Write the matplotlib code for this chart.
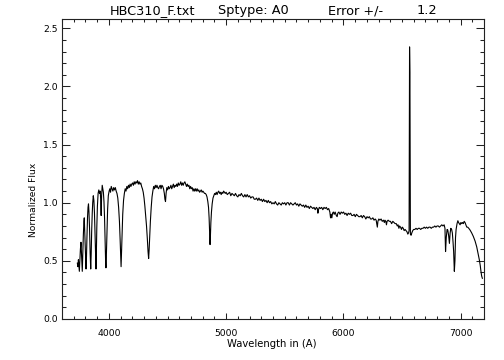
import matplotlib
matplotlib.use("Agg")
import matplotlib.pyplot as plt
from matplotlib.ticker import MultipleLocator

plt.rcParams['font.family'] = ['DejaVu Sans']

wavelength = [
    3731, 3736, 3740, 3744, 3748, 3752, 3757, 3762, 3766, 3770, 3773, 3777, 3782, 3787, 3790, 3794,
    3799, 3803, 3805, 3809, 3813, 3818, 3822, 3826, 3830, 3835, 3840, 3845, 3849, 3853, 3858, 3862,
    3867, 3872, 3877, 3883, 3887, 3890, 3893, 3897, 3902, 3908, 3914, 3920, 3926, 3930, 3934, 3938,
    3943, 3948, 3953, 3958, 3963, 3968, 3972, 3975, 3978, 3983, 3989, 3995, 4002, 4008, 4014, 4020,
    4027, 4034, 4041, 4048, 4055, 4062, 4069, 4076, 4083, 4090, 4096, 4101, 4104, 4107, 4112, 4118,
    4125, 4132, 4139, 4146, 4153, 4160, 4167, 4174, 4181, 4188, 4195, 4202, 4209, 4216, 4223, 4230,
    4237, 4244, 4251, 4258, 4265, 4272, 4279, 4286, 4293, 4300, 4307, 4314, 4321, 4328, 4334, 4339,
    4343, 4348, 4354, 4361, 4368, 4375, 4382, 4389, 4396, 4403, 4410, 4417, 4424, 4431, 4438, 4445,
    4452, 4459, 4466, 4473, 4478, 4483, 4488, 4494, 4501, 4508, 4515, 4522, 4529, 4536, 4543, 4550,
    4557, 4564, 4571, 4578, 4585, 4592, 4599, 4606, 4613, 4620, 4627, 4634, 4641, 4648, 4655, 4662,
    4669, 4676, 4683, 4690, 4697, 4704, 4711, 4718, 4725, 4732, 4739, 4746, 4753, 4760, 4767, 4774,
    4781, 4788, 4795, 4802, 4809, 4816, 4823, 4830, 4837, 4844, 4850, 4855, 4859, 4863, 4866, 4870,
    4875, 4881, 4888, 4895, 4902, 4909, 4916, 4923, 4930, 4937, 4944, 4951, 4958, 4965, 4972, 4979,
    4986, 4993, 5000, 5010, 5020, 5030, 5040, 5050, 5060, 5070, 5080, 5090, 5100, 5110, 5120, 5130,
    5140, 5150, 5160, 5170, 5180, 5190, 5200, 5210, 5220, 5230, 5240, 5250, 5260, 5270, 5280, 5290,
    5300, 5310, 5320, 5330, 5340, 5350, 5360, 5370, 5380, 5390, 5400, 5410, 5420, 5430, 5440, 5450,
    5460, 5470, 5480, 5490, 5500, 5510, 5520, 5530, 5540, 5550, 5560, 5570, 5580, 5590, 5600, 5610,
    5620, 5630, 5640, 5650, 5660, 5670, 5680, 5690, 5700, 5710, 5720, 5730, 5740, 5750, 5760, 5770,
    5778, 5783, 5788, 5795, 5805, 5815, 5825, 5835, 5845, 5855, 5865, 5875, 5885, 5891, 5896, 5902,
    5908, 5915, 5922, 5930, 5940, 5947, 5953, 5962, 5972, 5982, 5992, 6002, 6012, 6022, 6032, 6042,
    6052, 6062, 6072, 6082, 6092, 6102, 6112, 6122, 6132, 6142, 6152, 6162, 6172, 6182, 6192, 6202,
    6212, 6222, 6232, 6242, 6252, 6262, 6272, 6280, 6285, 6290, 6295, 6303, 6312, 6322, 6332, 6342,
    6350, 6355, 6362, 6368, 6373, 6382, 6392, 6402, 6412, 6422, 6432, 6442, 6452, 6460, 6467, 6474,
    6480, 6488, 6496, 6503, 6511, 6519, 6527, 6535, 6543, 6550, 6556, 6561, 6565, 6568, 6572, 6578,
    6584, 6592, 6600, 6610, 6620, 6630, 6640, 6650, 6660, 6670, 6680, 6690, 6700, 6710, 6720, 6730,
    6740, 6750, 6760, 6770, 6780, 6790, 6800, 6810, 6820, 6830, 6840, 6850, 6860, 6867, 6872, 6878,
    6885, 6891, 6898, 6905, 6911, 6917, 6924, 6930, 6936, 6941, 6947, 6952, 6957, 6962, 6970, 6977,
    6983, 6990, 6996, 7003, 7010, 7017, 7024, 7031, 7038, 7045, 7053, 7061, 7070, 7081, 7095, 7109,
    7124, 7138, 7150, 7160, 7168, 7174, 7180, 7186,
]

flux = [
    0.48, 0.45, 0.51, 0.46, 0.41, 0.49, 0.60, 0.66, 0.57, 0.46, 0.41, 0.56, 0.72, 0.84, 0.87, 0.76,
    0.60, 0.47, 0.43, 0.54, 0.71, 0.88, 0.96, 0.99, 0.92, 0.78, 0.57, 0.43, 0.56, 0.75, 0.91, 1.00,
    1.06, 1.02, 0.91, 0.69, 0.51, 0.43, 0.56, 0.79, 0.97, 1.08, 1.11, 1.08, 1.10, 1.03, 0.89, 1.06,
    1.15, 1.12, 1.09, 1.01, 0.87, 0.65, 0.50, 0.44, 0.53, 0.73, 0.94, 1.06, 1.10, 1.12, 1.09, 1.14,
    1.12, 1.10, 1.13, 1.11, 1.13, 1.10, 1.08, 1.04, 0.96, 0.84, 0.68, 0.52, 0.45, 0.55, 0.74, 0.90,
    1.02, 1.08, 1.12, 1.10, 1.14, 1.12, 1.15, 1.13, 1.16, 1.14, 1.16, 1.17, 1.15, 1.18, 1.16, 1.18,
    1.17, 1.19, 1.16, 1.18, 1.16, 1.17, 1.14, 1.12, 1.09, 1.04, 0.97, 0.89, 0.80, 0.69, 0.58, 0.52,
    0.59, 0.71, 0.84, 0.96, 1.05, 1.10, 1.14, 1.12, 1.15, 1.13, 1.15, 1.13, 1.12, 1.14, 1.15, 1.12,
    1.15, 1.14, 1.12, 1.08, 1.03, 1.01, 1.08, 1.13, 1.11, 1.14, 1.12, 1.13, 1.15, 1.12, 1.14, 1.16,
    1.13, 1.15, 1.14, 1.16, 1.14, 1.17, 1.15, 1.16, 1.18, 1.15, 1.17, 1.15, 1.17, 1.18, 1.16, 1.14,
    1.16, 1.14, 1.15, 1.12, 1.14, 1.12, 1.13, 1.10, 1.12, 1.10, 1.12, 1.10, 1.12, 1.10, 1.11, 1.09,
    1.10, 1.11, 1.09, 1.10, 1.09, 1.08, 1.08, 1.07, 1.05, 1.01, 0.96, 0.87, 0.76, 0.64, 0.71, 0.83,
    0.92, 0.99, 1.04, 1.06, 1.08, 1.07, 1.09, 1.07, 1.09, 1.10, 1.08, 1.09, 1.07, 1.09, 1.08, 1.10,
    1.09, 1.08, 1.09, 1.07, 1.08, 1.09, 1.06, 1.08, 1.07, 1.06, 1.08, 1.06, 1.05, 1.07, 1.06, 1.08,
    1.06, 1.05, 1.07, 1.05, 1.07, 1.05, 1.06, 1.04, 1.05, 1.05, 1.03, 1.03, 1.04, 1.02, 1.04, 1.02,
    1.03, 1.01, 1.03, 1.01, 1.02, 1.00, 1.02, 1.00, 1.01, 0.99, 1.00, 0.99, 1.01, 0.99, 0.98, 1.00,
    0.99, 0.98, 1.00, 0.99, 1.00, 0.98, 1.00, 1.00, 0.98, 1.00, 0.99, 0.98, 0.99, 1.00, 0.98, 0.99,
    0.97, 0.99, 0.98, 0.97, 0.98, 0.96, 0.98, 0.96, 0.97, 0.95, 0.97, 0.96, 0.95, 0.96, 0.94, 0.96,
    0.95, 0.91, 0.94, 0.96, 0.95, 0.96, 0.94, 0.96, 0.95, 0.96, 0.94, 0.95, 0.92, 0.87, 0.90, 0.87,
    0.91, 0.92, 0.90, 0.92, 0.89, 0.88, 0.91, 0.92, 0.90, 0.92, 0.91, 0.92, 0.90, 0.91, 0.89, 0.91,
    0.90, 0.91, 0.89, 0.89, 0.90, 0.88, 0.90, 0.89, 0.88, 0.88, 0.89, 0.87, 0.89, 0.88, 0.86, 0.88,
    0.87, 0.88, 0.86, 0.86, 0.87, 0.85, 0.86, 0.85, 0.82, 0.79, 0.84, 0.86, 0.85, 0.86, 0.84, 0.85,
    0.83, 0.85, 0.84, 0.81, 0.84, 0.85, 0.84, 0.84, 0.82, 0.84, 0.83, 0.82, 0.82, 0.80, 0.81, 0.78,
    0.80, 0.79, 0.77, 0.79, 0.78, 0.76, 0.77, 0.76, 0.75, 0.73, 0.74, 0.76, 2.34, 2.12, 0.73, 0.72,
    0.74, 0.76, 0.77, 0.77, 0.78, 0.77, 0.78, 0.78, 0.77, 0.78, 0.78, 0.79, 0.78, 0.79, 0.78, 0.79,
    0.79, 0.78, 0.79, 0.79, 0.80, 0.79, 0.80, 0.80, 0.79, 0.80, 0.81, 0.80, 0.81, 0.78, 0.58, 0.70,
    0.77, 0.765, 0.72, 0.65, 0.74, 0.78, 0.77, 0.74, 0.66, 0.58, 0.41, 0.50, 0.70, 0.77, 0.82, 0.845,
    0.83, 0.82, 0.81, 0.83, 0.82, 0.83, 0.82, 0.84, 0.83, 0.81, 0.79, 0.79, 0.78, 0.765, 0.74, 0.71,
    0.67, 0.62, 0.56, 0.51, 0.46, 0.41, 0.37, 0.35,
]

x_range = (3600, 7200)
y_range = (0.0, 2.58)

fig = plt.figure(figsize=(5.04, 3.6), dpi=100)
W, H = 504.0, 360.0
ax = fig.add_axes([62 / W, 1 - 319 / H, (484 - 62) / W, (319 - 19) / H])
ax.plot(wavelength, flux, color='black', lw=0.8)
ax.set_xlim(*x_range)
ax.set_ylim(*y_range)

ax.xaxis.set_major_locator(MultipleLocator(1000))
ax.xaxis.set_minor_locator(MultipleLocator(100))
ax.yaxis.set_major_locator(MultipleLocator(0.5))
ax.yaxis.set_minor_locator(MultipleLocator(0.1))
ax.yaxis.set_major_formatter(matplotlib.ticker.FormatStrFormatter('%.1f'))

ax.tick_params(axis='x', which='both', direction='in', top=True, bottom=True,
               width=0.75, labelsize=6.7, pad=7, color='#222222')
ax.tick_params(axis='x', which='major', length=4.3)
ax.tick_params(axis='x', which='minor', length=2.2)
ax.tick_params(axis='y', which='both', direction='in', left=True, right=True,
               width=0.75, labelsize=6.7, pad=3, color='#222222')
ax.tick_params(axis='y', which='major', length=6.0)
ax.tick_params(axis='y', which='minor', length=3.0)
for s in ax.spines.values():
    s.set_linewidth(0.8)
    s.set_color('#222222')

# title pieces
ty = 1 - 14 / H
fig.text(110 / W, ty, "HBC310_F.txt", fontsize=9.3, va='baseline', ha='left')
fig.text(218 / W, ty, "Sptype: A0", fontsize=9.3, va='baseline', ha='left')
fig.text(328 / W, ty, "Error +/-", fontsize=9.3, va='baseline', ha='left')
fig.text(417 / W, ty, "1.2", fontsize=9.3, va='baseline', ha='left')

fig.text(272 / W, 1 - 347 / H, "Wavelength in (A)", fontsize=7.2, va='baseline', ha='center')
fig.text(33 / W, 1 - 200 / H, "Normalized Flux", fontsize=6.6, va='center', ha='center',
         rotation=90)

fig.savefig("out.png", dpi=100)
